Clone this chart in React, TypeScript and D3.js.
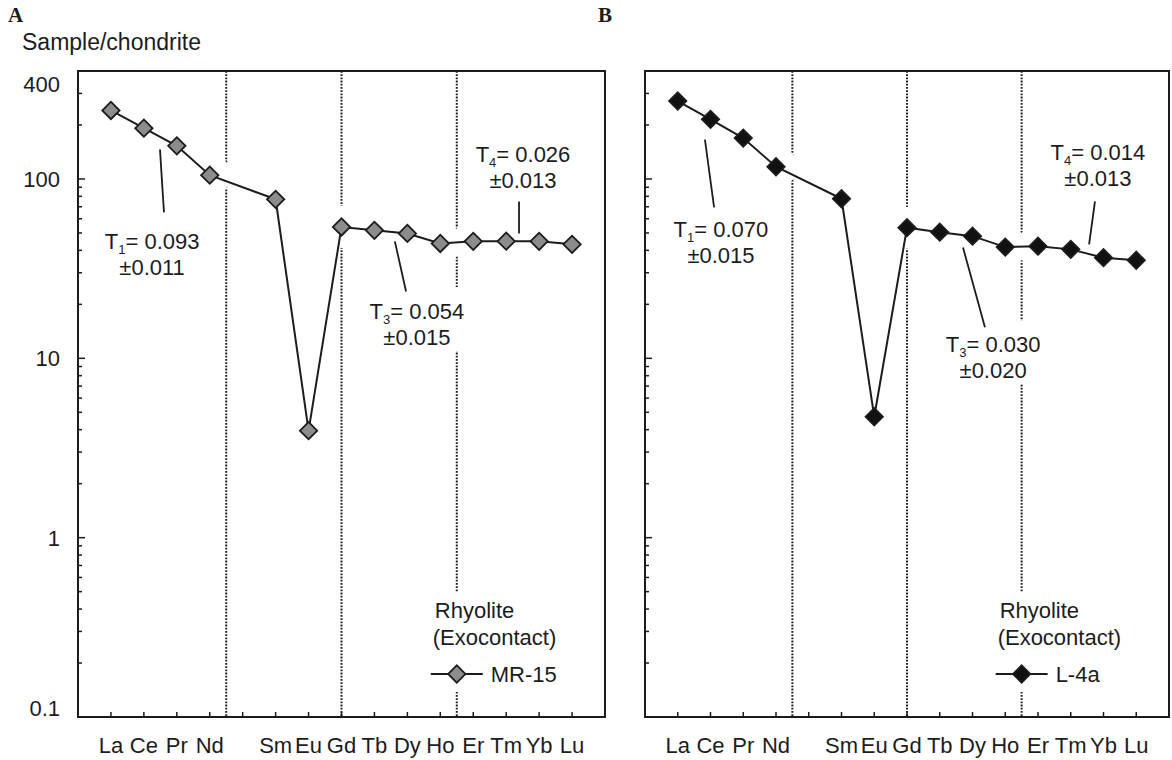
import React from 'react';
import * as d3 from 'd3';

// REE order (Pm has no analysis, position kept empty)
const elements = ['La', 'Ce', 'Pr', 'Nd', 'Pm', 'Sm', 'Eu', 'Gd', 'Tb', 'Dy', 'Ho', 'Er', 'Tm', 'Yb', 'Lu'];
const mr15 = [241, 192, 153, 105, null, 77, 3.95, 54, 51.7, 49.7, 43.7, 44.9, 45, 44.9, 43.2];
const l4a = [272, 215, 169, 117, null, 77.6, 4.72, 53.5, 50.5, 48, 41.7, 42.2, 40.5, 36.4, 35.2];
const yTicks = [0.1, 1, 10, 100, 400];
const dividers = [3.5, 7, 10.5];

// tetrad annotations: text anchor and leader ends in (element index, value)
const notesA = [
  { sub: '1', val: '0.093', err: '0.011', at: [1.25, 40.5], leader: [[1.49, 146], [1.61, 65.1]] },
  { sub: '3', val: '0.054', err: '0.015', at: [9.29, 16.5], leader: [[8.62, 44.9], [8.96, 23.6]] },
  { sub: '4', val: '0.026', err: '0.013', at: [12.51, 123.8], leader: [[12.39, 75], [12.39, 49.7]] },
];
const notesB = [
  { sub: '1', val: '0.070', err: '0.015', at: [1.32, 47.2], leader: [[0.83, 166], [1.11, 69.5]] },
  { sub: '3', val: '0.030', err: '0.020', at: [9.63, 10.8], leader: [[8.71, 41.5], [9.38, 14.9]] },
  { sub: '4', val: '0.014', err: '0.013', at: [12.83, 127], leader: [[12.74, 75], [12.56, 43.2]] },
];

const FONT = '"Liberation Sans", Arial, sans-serif';
const INK = '#1c1c1c';
const TOP = 71;
const BOTTOM = 717;

const diamond = d3.symbol().type(d3.symbolSquare).size(150)();

function Panel({ left, width, values, fill, notes, sample, showLabels }) {
  const x = d3.scaleLinear().domain([-1, 15]).range([left, left + width]);
  const y = d3.scaleLog().domain([0.1, 400]).range([BOTTOM, TOP]);

  const pts = values
    .map((v, i) => ({ i, v }))
    .filter(d => d.v != null);
  const line = d3.line().x(d => x(d.i)).y(d => y(d.v));

  const minor = [];
  [0.1, 1, 10, 100].forEach(dec => {
    for (let k = 2; k <= 9; k++) if (k * dec < 400) minor.push(k * dec);
  });

  const lx = x(10.5);

  return (
    <g>
      {/* divider lines */}
      {dividers.map(d => (
        <line key={d} x1={x(d)} x2={x(d)} y1={TOP} y2={BOTTOM}
          stroke="#222" strokeWidth={2} strokeDasharray="1.8,1.4" />
      ))}
      {/* white clearance around markers */}
      {pts.map(d => (
        <circle key={'h' + d.i} cx={x(d.i)} cy={y(d.v)} r={21} fill="#fff" />
      ))}

      {/* frame */}
      <rect x={left} y={TOP} width={width} height={BOTTOM - TOP} fill="none" stroke={INK} strokeWidth={2} />

      {/* y ticks */}
      {yTicks.filter(v => v < 400 && v > 0.1).map(v => (
        <line key={'M' + v} x1={left} x2={left + 7} y1={y(v)} y2={y(v)} stroke={INK} strokeWidth={1.5} />
      ))}
      {minor.map(v => (
        <line key={'m' + v} x1={left} x2={left + 4} y1={y(v)} y2={y(v)} stroke={INK} strokeWidth={1.5} />
      ))}
      {showLabels && yTicks.map(v => (
        <text key={'l' + v} x={left - 18} y={Math.min(Math.max(y(v), TOP + 13), BOTTOM - 9) + 8}
          textAnchor="end" fontSize={22} fontFamily={FONT} fill={INK}>{String(v)}</text>
      ))}

      {/* x ticks and labels */}
      {elements.map((e, i) => (
        <line key={'xt' + e} x1={x(i)} x2={x(i)} y1={BOTTOM} y2={BOTTOM - 5} stroke={INK} strokeWidth={1.5} />
      ))}
      {elements.map((e, i) => e === 'Pm' ? null : (
        <text key={'xl' + e} x={x(i)} y={BOTTOM + 36} textAnchor="middle"
          fontSize={22} fontFamily={FONT} fill={INK}>{e}</text>
      ))}

      {/* data */}
      <path d={line(pts)} fill="none" stroke={INK} strokeWidth={2} />
      {pts.map(d => (
        <path key={'p' + d.i} d={diamond}
          transform={`translate(${x(d.i)},${y(d.v)}) rotate(45)`}
          fill={fill} stroke={INK} strokeWidth={1.8} />
      ))}

      {/* annotations */}
      {notes.map(n => {
        const cx = x(n.at[0]);
        const by = y(n.at[1]);
        return (
          <g key={'n' + n.sub}>
            <rect x={cx - 54} y={by - 32} width={108} height={64} fill="#fff" />
            <text x={cx} y={by} textAnchor="middle" fontSize={22} fontFamily={FONT} fill={INK}>
              T<tspan fontSize={13} dy={5}>{n.sub}</tspan><tspan dy={-5}>= {n.val}</tspan>
            </text>
            <text x={cx} y={by + 26} textAnchor="middle" fontSize={22} fontFamily={FONT} fill={INK}>
              ±{n.err}
            </text>
            <line x1={x(n.leader[0][0])} y1={y(n.leader[0][1])} x2={x(n.leader[1][0])} y2={y(n.leader[1][1])}
              stroke={INK} strokeWidth={1.8} />
          </g>
        );
      })}

      {/* legend */}
      <rect x={lx - 28} y={BOTTOM - 125} width={150} height={100} fill="#fff" />
      <text x={lx - 22} y={BOTTOM - 99} fontSize={22} fontFamily={FONT} fill={INK}>Rhyolite</text>
      <text x={lx - 24} y={BOTTOM - 72} fontSize={22} fontFamily={FONT} fill={INK}>(Exocontact)</text>
      <line x1={lx - 26} x2={lx + 26} y1={BOTTOM - 43} y2={BOTTOM - 43} stroke={INK} strokeWidth={2} />
      <path d={diamond} transform={`translate(${lx},${BOTTOM - 43}) rotate(45)`}
        fill={fill} stroke={INK} strokeWidth={1.8} />
      <text x={lx + 34} y={BOTTOM - 35} fontSize={22} fontFamily={FONT} fill={INK}>{sample}</text>
    </g>
  );
}

export default function App() {
  return (
    <svg width={1172} height={760} style={{ display: 'block', position: 'absolute', left: 0, top: 0, background: '#fff' }}>
      <rect width={1172} height={760} fill="#fff" />
      <text x={8} y={22} fontSize={21} fontWeight="bold" fontFamily='"Liberation Serif", "Times New Roman", serif' fill={INK}>A</text>
      <text x={598} y={22} fontSize={21} fontWeight="bold" fontFamily='"Liberation Serif", "Times New Roman", serif' fill={INK}>B</text>
      <text x={22} y={50} fontSize={23} fontFamily={FONT} fill={INK}>Sample/chondrite</text>
      <Panel left={78} width={527} values={mr15} fill="#8c8c8c" notes={notesA} sample="MR-15" showLabels={true} />
      <Panel left={645} width={524} values={l4a} fill="#111" notes={notesB} sample="L-4a" showLabels={false} />
    </svg>
  );
}
